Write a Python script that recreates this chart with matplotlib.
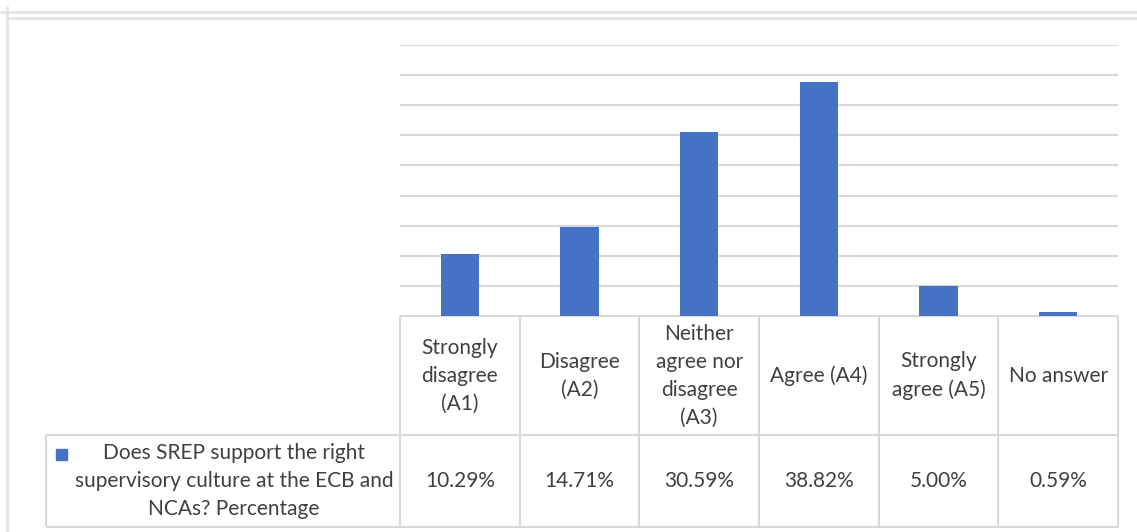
import matplotlib.pyplot as plt
from matplotlib.lines import Line2D

categories = ["Strongly\ndisagree\n(A1)", "Disagree\n(A2)", "Neither\nagree nor\ndisagree\n(A3)",
              "Agree (A4)", "Strongly\nagree (A5)", "No answer"]
values = [10.29, 14.71, 30.59, 38.82, 5.00, 0.59]
series_name = "Does SREP support the right\nsupervisory culture at the ECB and\nNCAs? Percentage"

W, H = 1137, 532
blue = "#4472C4"
grid = "#d9d9d9"
txt = "#404040"
plt.rcParams['font.family'] = ['Lato', 'DejaVu Sans']

fig = plt.figure(figsize=(W / 100, H / 100), dpi=100)

# plot area in pixels
px_l, px_r, px_top, px_base = 400, 1118, 45, 316
row1, row2 = 435, 527
key_l = 46
fs = 15
ls = 1.5

# overlay in pixel coords for frame + data table
ov = fig.add_axes([0, 0, 1, 1])
ov.set_xlim(0, W)
ov.set_ylim(H, 0)
ov.axis("off")

def seg(x0, y0, x1, y1, c=grid, lw=1.5):
    ov.add_line(Line2D([x0, x1], [y0, y1], color=c, lw=lw, solid_capstyle="butt"))

# outer frame
seg(0, 12, W, 12, c="#e3e3e3", lw=2)
seg(7, 6, 7, H, c="#e3e3e3", lw=2)
seg(7, 18, W, 18, c="#e3e3e3", lw=2)

ax = fig.add_axes([px_l / W, (H - px_base) / H, (px_r - px_l) / W, (px_base - px_top) / H])
ax.patch.set_alpha(0)
n = len(values)
ax.bar(range(n), values, width=0.32, color=blue, zorder=3)
ax.set_xlim(-0.5, n - 0.5)
ax.set_ylim(0, 45)
ax.set_yticks(range(5, 46, 5))
ax.yaxis.grid(True, color=grid, lw=1.5)
ax.tick_params(length=0, labelleft=False, labelbottom=False)
for s in ax.spines.values():
    s.set_visible(False)

# data table
colw = (px_r - px_l) / n
seg(px_l, px_base, px_r, px_base)
seg(key_l, row1, px_r, row1)
seg(key_l, row2, px_r, row2)
seg(key_l, row1, key_l, row2)
for i in range(n + 1):
    x = px_l + i * colw
    seg(x, px_base, x, row2)
for i, (lab, v) in enumerate(zip(categories, values)):
    cx = px_l + (i + 0.5) * colw
    ov.text(cx, (px_base + row1) / 2, lab, ha="center", va="center", fontsize=fs,
            color=txt, linespacing=ls)
    ov.text(cx, (row1 + row2) / 2, f"{v:.2f}%", ha="center", va="center", fontsize=fs, color=txt)

ov.add_patch(plt.Rectangle((56, 449), 11, 11, color=blue))
ov.text(234, (row1 + row2) / 2, series_name, ha="center", va="center", fontsize=fs,
        color=txt, linespacing=ls)

fig.savefig("out.png", dpi=100)
